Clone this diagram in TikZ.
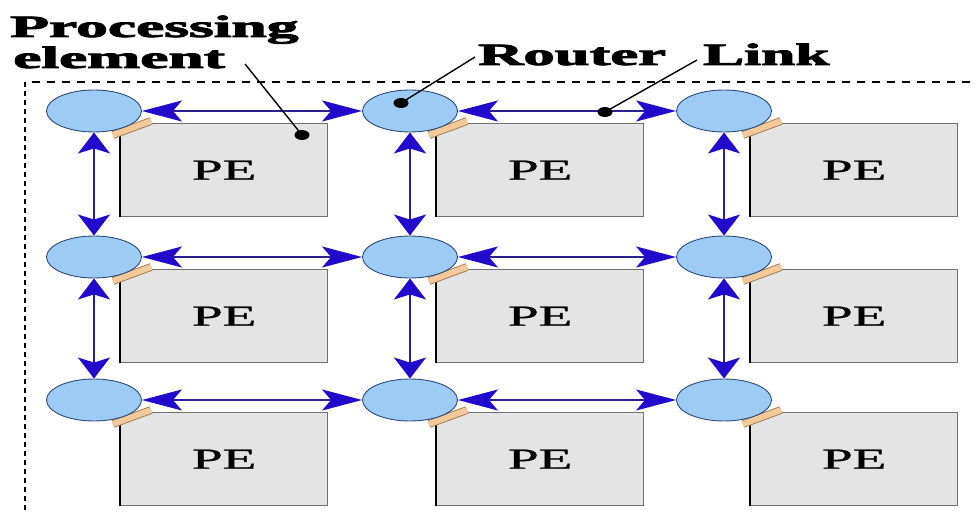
\documentclass[tikz,border=0pt]{standalone}
\usepackage{fontspec}
\setmainfont{Liberation Serif}
\newfontfamily\lblfont[BoldFeatures={FakeBold=2.5}]{Liberation Serif}
\newfontfamily\pefont[FakeBold=0.8]{Liberation Serif}
\usetikzlibrary{shapes.geometric,arrows.meta}
\definecolor{rfill}{RGB}{157,203,243}
\definecolor{rdraw}{RGB}{44,74,122}
\definecolor{pefill}{RGB}{228,228,228}
\definecolor{pedraw}{RGB}{112,112,112}
\definecolor{barfill}{RGB}{242,201,155}
\definecolor{bardraw}{RGB}{160,120,80}
\definecolor{headblue}{RGB}{34,10,204}
\definecolor{shaft}{RGB}{42,32,144}
\tikzset{
  router/.style={ellipse, draw=rdraw, line width=0.9pt, fill=rfill, minimum width=95pt, minimum height=42pt, inner sep=0pt},
  pebox/.style={rectangle, draw=pedraw, line width=1.3pt, fill=pefill, minimum width=207pt, minimum height=93pt, anchor=north west, inner sep=0pt, font=\pefont\fontsize{29}{29}\selectfont},
  hlink/.style={shaft, line width=1.8pt, arrows={Stealth[length=40pt,width=21pt,inset=9pt,color=headblue]-Stealth[length=40pt,width=21pt,inset=9pt,color=headblue]}},
  vlink/.style={shaft, line width=1.8pt, arrows={Stealth[length=21pt,width=32pt,inset=5pt,color=headblue]-Stealth[length=21pt,width=32pt,inset=5pt,color=headblue]}},
  bar/.style={draw=bardraw, double=barfill, double distance=6pt, line width=0.9pt},
  lbl/.style={anchor=base west, inner sep=0pt, font=\lblfont\fontsize{31}{31}\selectfont\bfseries},
  leader/.style={black, line width=1.4pt},
  dot/.style={ellipse, fill=black, minimum width=15pt, minimum height=10pt, inner sep=0pt},
  border/.style={black, line width=1.9pt}
}
\begin{document}
\begin{tikzpicture}[x=1pt,y=-1pt]
\useasboundingbox (0,0) rectangle (979,513);
% dashed border
\draw[border, dash pattern=on 8pt off 7pt] (970,82) -- (25,82);
\draw[border, line width=2.6pt, dash pattern=on 5pt off 4pt] (25,82) -- (25,513);
% grid
\foreach \i/\cy in {1/111,2/257,3/400}{
  \foreach \j/\cx in {1/94,2/410,3/724}{
    \node[pebox] (p\i\j) at (\cx+26,\cy+12) {\scalebox{1.9}[1]{PE}};
    \draw[black, line width=1.8pt] (p\i\j.north west) -- (p\i\j.south west);
    \coordinate (ba\i\j) at (\cx+19,\cy+24);
    \coordinate (bb\i\j) at (\cx+57,\cy+10);
    \draw[bar] (ba\i\j) -- (bb\i\j);
    \node[router] (r\i\j) at (\cx,\cy) {};
  }
}
% horizontal links
\foreach \i in {1,2,3}{
  \draw[hlink] (r\i1.east) -- (r\i2.west);
  \draw[hlink] (r\i2.east) -- (r\i3.west);
}
% vertical links
\foreach \j in {1,2,3}{
  \draw[vlink] (r1\j.south) -- (r2\j.north);
  \draw[vlink] (r2\j.south) -- (r3\j.north);
}
% labels
\node[lbl] (lproc) at (10,37) {\scalebox{2.05}[1]{Processing}};
\node[lbl] (lelem) at (13,68) {\scalebox{2.05}[1]{element}};
\node[lbl] (lrout) at (478,65) {\scalebox{2.02}[1]{Router}};
\node[lbl] (llink) at (703,65) {\scalebox{1.98}[1]{Link}};
% leaders
\node[dot] (dpe) at (302,135) {};
\node[dot] (drt) at (401,103) {};
\node[dot] (dlk) at (605,112) {};
\coordinate (spe) at (245,64);
\coordinate (srt) at (475,57);
\coordinate (slk) at (697,60);
\draw[leader] (spe) -- (dpe.center);
\draw[leader] (srt) -- (drt.center);
\draw[leader] (slk) -- (dlk.center);
\end{tikzpicture}
\end{document}
